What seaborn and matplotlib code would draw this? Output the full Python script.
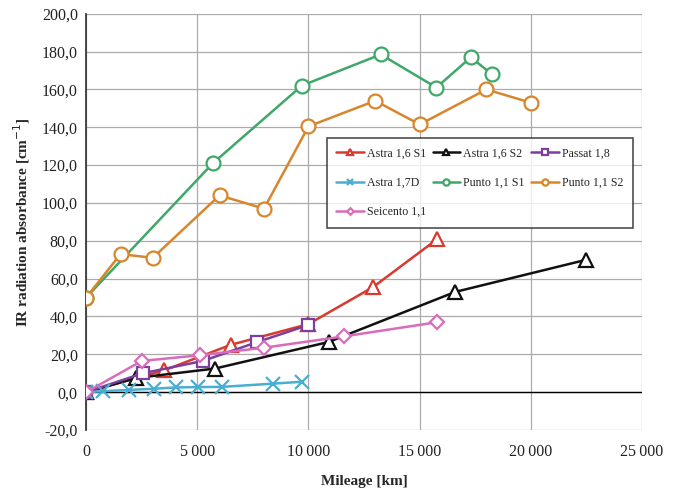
import matplotlib
matplotlib.use("Agg")
import matplotlib.pyplot as plt
from matplotlib.ticker import FixedLocator, FuncFormatter
import seaborn as sns
import pandas as pd

# Mileage [km] and IR absorbance [cm^-1] for each vehicle / sample
astra16s1_km = [0, 3500, 6500, 10000, 12900, 15800]
astra16s1_ir = [0.0, 11.5, 25.0, 36.0, 55.5, 81.0]

astra16s2_km = [0, 2250, 5800, 10900, 16600, 22500]
astra16s2_ir = [0.0, 7.5, 12.5, 26.5, 53.0, 70.0]

passat_km = [0, 2550, 5250, 7700, 10000]
passat_ir = [0.0, 10.0, 16.5, 26.5, 35.5]

astra17d_km = [0, 750, 1950, 3050, 4050, 5050, 6100, 8400, 9700]
astra17d_ir = [0.0, 0.5, 1.2, 1.8, 2.5, 2.7, 2.8, 4.5, 5.5]

punto_s1_km = [0, 5700, 9700, 13250, 15750, 17300, 18250]
punto_s1_ir = [50.0, 121.0, 162.0, 178.5, 161.0, 177.0, 168.0]

punto_s2_km = [0, 1550, 3000, 6000, 8000, 10000, 13000, 15000, 18000, 20000]
punto_s2_ir = [50.0, 73.0, 71.0, 104.0, 97.0, 140.5, 154.0, 141.5, 160.0, 153.0]

seicento_km = [0, 2500, 5100, 8000, 11600, 15800]
seicento_ir = [0.0, 16.5, 19.5, 23.5, 29.5, 37.0]

series_names = ["Astra 1,6 S1", "Astra 1,6 S2", "Passat 1,8", "Astra 1,7D",
                "Punto 1,1 S1", "Punto 1,1 S2", "Seicento 1,1"]
series_km = [astra16s1_km, astra16s2_km, passat_km, astra17d_km,
             punto_s1_km, punto_s2_km, seicento_km]
series_ir = [astra16s1_ir, astra16s2_ir, passat_ir, astra17d_ir,
             punto_s1_ir, punto_s2_ir, seicento_ir]

y_ticks = [-20, 0, 20, 40, 60, 80, 100, 120, 140, 160, 180, 200]
x_ticks = [0, 5000, 10000, 15000, 20000, 25000]

styles = {
    "Astra 1,6 S1": dict(color="#d93a2e", marker="^", ms=10),
    "Astra 1,6 S2": dict(color="#111111", marker="^", ms=10),
    "Passat 1,8":   dict(color="#7d3f9c", marker="s", ms=9),
    "Astra 1,7D":   dict(color="#4aaed0", marker="x", ms=10),
    "Punto 1,1 S1": dict(color="#3fa868", marker="o", ms=10),
    "Punto 1,1 S2": dict(color="#d8862c", marker="o", ms=10),
    "Seicento 1,1": dict(color="#d96cba", marker="D", ms=7.5),
}

frames = []
for name, km, ir in zip(series_names, series_km, series_ir):
    frames.append(pd.DataFrame({"Mileage": km, "IR": ir, "Sample": name}))
df = pd.concat(frames, ignore_index=True)

sns.set_theme(style="white")
plt.rcParams["font.family"] = ["Liberation Serif", "DejaVu Serif"]

fig = plt.figure(figsize=(6.78, 4.92), dpi=100)
ax = fig.add_axes([0.127, 0.126, 0.820, 0.846])

handles = {}
for name in series_names:
    st = styles[name]
    sub = df[df["Sample"] == name]
    sns.lineplot(data=sub, x="Mileage", y="IR", ax=ax, sort=False,
                 color=st["color"], linewidth=1.8, marker=st["marker"],
                 markersize=st["ms"], markerfacecolor="white",
                 markeredgecolor=st["color"], markeredgewidth=1.6,
                 label=name, zorder=3)
    handles[name] = ax.get_lines()[-1]

ax.set_xlim(0, 25000)
ax.set_ylim(-20, 200)
ax.yaxis.set_major_locator(FixedLocator(y_ticks))
ax.xaxis.set_major_locator(FixedLocator(x_ticks))
ax.yaxis.set_major_formatter(FuncFormatter(lambda v, p: f"{v:.1f}".replace(".", ",")))
ax.xaxis.set_major_formatter(
    FuncFormatter(lambda v, p: f"{int(v):,}".replace(",", "\u2009")))
ax.grid(True, color="#ababab", linewidth=0.9)
ax.axhline(0, color="black", linewidth=1.0, zorder=2)
for side in ["top", "right", "bottom"]:
    ax.spines[side].set_visible(False)
ax.spines["left"].set_color("#333333")
ax.tick_params(axis="both", labelsize=11.5, length=0, pad=6, colors="#222222")
ax.tick_params(axis="x", pad=10)

ax.set_xlabel("Mileage [km]", fontsize=11, fontweight="bold", labelpad=11)
ax.set_ylabel("IR radiation absorbance [cm$^{-1}$]", fontsize=11,
              fontweight="bold", labelpad=7)

order = ["Astra 1,6 S1", "Astra 1,7D", "Seicento 1,1",
         "Astra 1,6 S2", "Punto 1,1 S1",
         "Passat 1,8", "Punto 1,1 S2"]
leg = ax.legend([handles[n] for n in order], order, ncol=3,
                loc="upper left", bbox_to_anchor=(0.433, 0.702),
                borderaxespad=0.0,
                frameon=True, fancybox=False, edgecolor="#222222",
                fontsize=8.6, markerscale=0.45, handlelength=2.3,
                handletextpad=0.25, columnspacing=0.55, labelspacing=1.45,
                borderpad=0.8)
leg.get_frame().set_linewidth(1.2)

fig.savefig("out.png", dpi=100, facecolor="white")
